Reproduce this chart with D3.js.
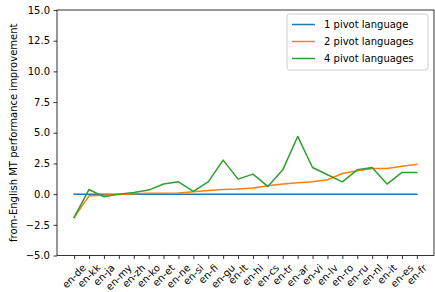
<!DOCTYPE html>
<html><head><meta charset="utf-8">
<script src="https://cdn.jsdelivr.net/npm/d3@7"></script>
<style>body{margin:0;background:#fff}svg{display:block;font-family:"DejaVu Sans",sans-serif}</style>
</head><body>
<svg id="c" width="435" height="292"></svg>
<script>
const categories = ["en-de","en-kk","en-ja","en-my","en-zh","en-ko","en-et","en-ne","en-si","en-fi","en-gu","en-lt","en-hi","en-cs","en-tr","en-ar","en-vi","en-lv","en-ro","en-ru","en-nl","en-it","en-es","en-fr"];
const pivot1 = [0,0,0,0,0,0,0,0,0,0,0,0,0,0,0,0,0,0,0,0,0,0,0,0];
const pivot2 = [-1.9,-0.14,-0.1,-0.03,0.03,0.08,0.08,0.1,0.19,0.3,0.38,0.41,0.49,0.68,0.82,0.92,1.0,1.17,1.68,1.9,2.09,2.09,2.28,2.42];
const pivot4 = [-1.9,0.38,-0.22,0.0,0.14,0.33,0.82,1.0,0.22,1.0,2.77,1.22,1.63,0.63,1.98,4.7,2.17,1.58,1.0,1.98,2.17,0.82,1.77,1.77];
const seriesNames = ["1 pivot language","2 pivot languages","4 pivot languages"];
const colors = ["#1f77b4","#ff7f0e","#2ca02c"];
const yTicks = [-5,-2.5,0,2.5,5,7.5,10,12.5,15];
const yLabel = "from-English MT performance improvement";

const L=57,R=434,T=10,B=255.5;
const svg=d3.select("#c");
const x=d3.scalePoint().domain(categories).range([L,R]).padding(1.15);
const y=d3.scaleLinear().domain([-5,15]).range([B,T]);

// y axis
const fmt=v=>{const s=v.toFixed(1);return v<0?"\u2212"+s.slice(1):s;};
const ya=svg.append("g").attr("transform",`translate(${L},0)`)
  .call(d3.axisLeft(y).tickValues(yTicks).tickFormat(fmt).tickSize(3.5).tickPadding(3.5));
ya.select(".domain").remove();
ya.selectAll("text").attr("font-size",10).attr("fill","#000").attr("font-family","DejaVu Sans");
ya.selectAll("line").attr("stroke","#000").attr("stroke-width",0.8);

// x axis
const xa=svg.append("g").attr("transform",`translate(0,${B})`)
  .call(d3.axisBottom(x).tickSize(3.5).tickFormat(""));
xa.select(".domain").remove();
xa.selectAll("line").attr("stroke","#000").attr("stroke-width",0.8);
const lblG=svg.append("g");
categories.forEach(c=>{
  const t=lblG.append("text").text(c).attr("font-size",10).attr("text-anchor","middle")
    .attr("dominant-baseline","central").attr("fill","#000");
  const w=t.node().getComputedTextLength();
  const h=10*1.0;
  const H=(w+h)*Math.SQRT1_2;
  const cx=x(c), cy=B+3.5+3.5+H/2;
  t.attr("x",cx).attr("y",cy).attr("transform",`rotate(-45,${cx},${cy})`);
});

// y label
svg.append("text").text(yLabel).attr("font-size",10).attr("text-anchor","middle")
  .attr("transform",`translate(13,${(T+B)/2}) rotate(-90)`).attr("dominant-baseline","central");

// lines
const line=d3.line().x((d,i)=>x(categories[i])).y(d=>y(d));
[pivot1,pivot2,pivot4].forEach((s,i)=>{
  svg.append("path").attr("d",line(s)).attr("fill","none").attr("stroke",colors[i])
    .attr("stroke-width",1.5).attr("stroke-linejoin","round").attr("stroke-linecap","square");
});

// frame
svg.append("rect").attr("x",L).attr("y",T).attr("width",R-L).attr("height",B-T)
  .attr("fill","none").attr("stroke","#000").attr("stroke-width",0.8);

// legend
const lg=svg.append("g");
lg.append("rect").attr("x",287).attr("y",14).attr("width",141).attr("height",56).attr("rx",2.5)
  .attr("fill","#fff").attr("fill-opacity",0.8).attr("stroke","#ccc").attr("stroke-width",1);
seriesNames.forEach((n,i)=>{
  const yy=24.5+i*17;
  lg.append("line").attr("x1",292).attr("x2",315).attr("y1",yy).attr("y2",yy)
    .attr("stroke",colors[i]).attr("stroke-width",1.5);
  lg.append("text").text(n).attr("x",324).attr("y",yy).attr("font-size",10)
    .attr("dominant-baseline","central").attr("fill","#000");
});
</script>
</body></html>
